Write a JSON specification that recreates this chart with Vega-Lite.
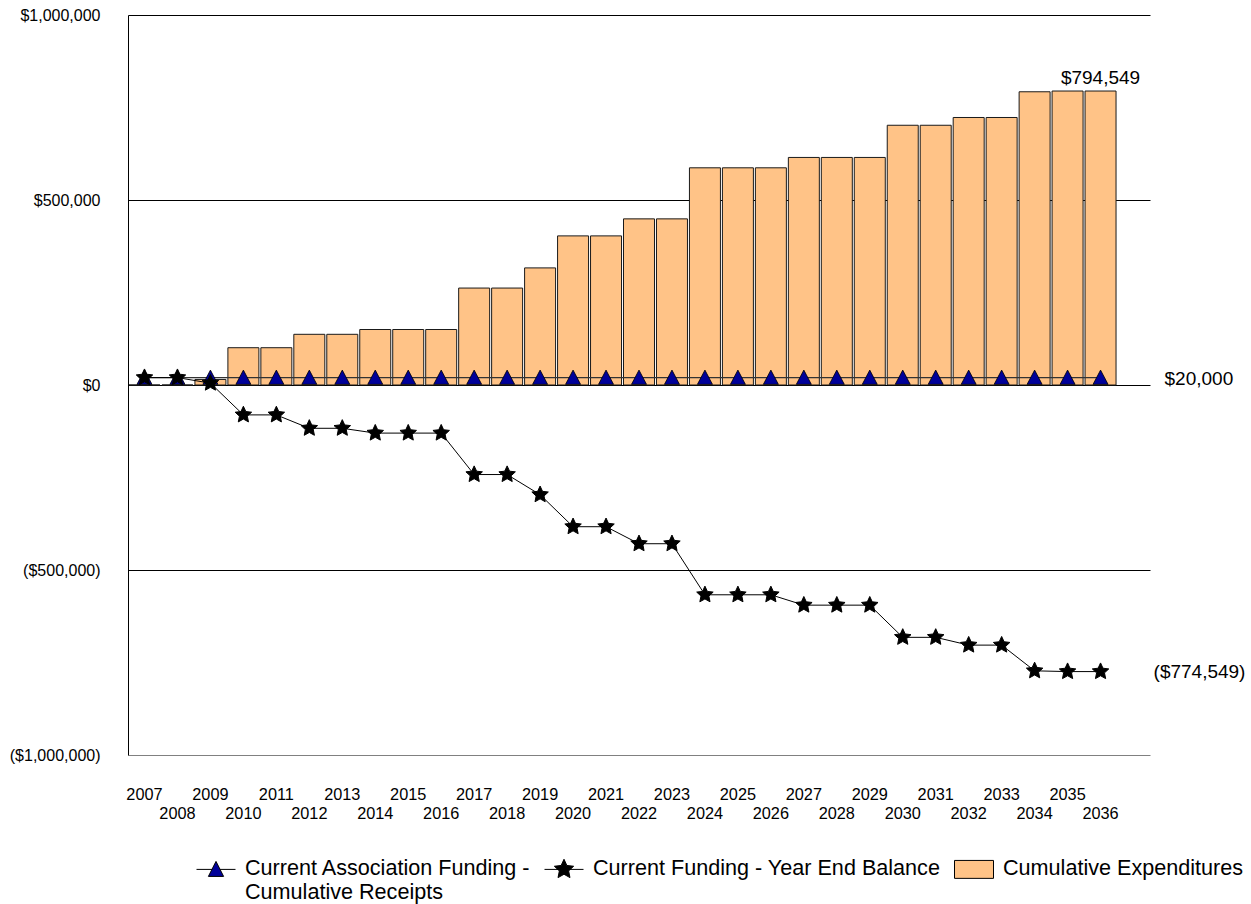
{
  "$schema": "https://vega.github.io/schema/vega-lite/v6.json",
  "width": 1022,
  "height": 740,
  "autosize": {"type": "none"},
  "padding": {"left": 128, "top": 15, "right": 101, "bottom": 149},
  "config": {
    "font": "Liberation Sans",
    "view": {"stroke": null},
    "axis": {"labelColor": "black", "labelFont": "Liberation Sans"}
  },
  "data": {
    "values": [
      {"year": 2007, "receipts": 20000, "balance": 20000, "expenditures": 0},
      {"year": 2008, "receipts": 20000, "balance": 20000, "expenditures": 0},
      {"year": 2009, "receipts": 20000, "balance": 5000, "expenditures": 15000},
      {"year": 2010, "receipts": 20000, "balance": -80800, "expenditures": 100800},
      {"year": 2011, "receipts": 20000, "balance": -80800, "expenditures": 100800},
      {"year": 2012, "receipts": 20000, "balance": -117000, "expenditures": 137000},
      {"year": 2013, "receipts": 20000, "balance": -117000, "expenditures": 137000},
      {"year": 2014, "receipts": 20000, "balance": -130000, "expenditures": 150000},
      {"year": 2015, "receipts": 20000, "balance": -130000, "expenditures": 150000},
      {"year": 2016, "receipts": 20000, "balance": -130000, "expenditures": 150000},
      {"year": 2017, "receipts": 20000, "balance": -242000, "expenditures": 262000},
      {"year": 2018, "receipts": 20000, "balance": -242000, "expenditures": 262000},
      {"year": 2019, "receipts": 20000, "balance": -296500, "expenditures": 316500},
      {"year": 2020, "receipts": 20000, "balance": -383000, "expenditures": 403000},
      {"year": 2021, "receipts": 20000, "balance": -383000, "expenditures": 403000},
      {"year": 2022, "receipts": 20000, "balance": -429000, "expenditures": 449000},
      {"year": 2023, "receipts": 20000, "balance": -429000, "expenditures": 449000},
      {"year": 2024, "receipts": 20000, "balance": -567000, "expenditures": 587000},
      {"year": 2025, "receipts": 20000, "balance": -567000, "expenditures": 587000},
      {"year": 2026, "receipts": 20000, "balance": -567000, "expenditures": 587000},
      {"year": 2027, "receipts": 20000, "balance": -595000, "expenditures": 615000},
      {"year": 2028, "receipts": 20000, "balance": -595000, "expenditures": 615000},
      {"year": 2029, "receipts": 20000, "balance": -595000, "expenditures": 615000},
      {"year": 2030, "receipts": 20000, "balance": -682000, "expenditures": 702000},
      {"year": 2031, "receipts": 20000, "balance": -682000, "expenditures": 702000},
      {"year": 2032, "receipts": 20000, "balance": -703000, "expenditures": 723000},
      {"year": 2033, "receipts": 20000, "balance": -703000, "expenditures": 723000},
      {"year": 2034, "receipts": 20000, "balance": -772500, "expenditures": 792500},
      {"year": 2035, "receipts": 20000, "balance": -774549, "expenditures": 794549},
      {"year": 2036, "receipts": 20000, "balance": -774549, "expenditures": 794549}
    ]
  },
  "layer": [
    {
      "mark": {"type": "bar", "fill": "#FFC387", "stroke": "#1a1a1a", "strokeWidth": 1},
      "encoding": {
        "x": {
          "field": "year", "type": "ordinal", "title": null,
          "scale": {"domain": [2007,2008,2009,2010,2011,2012,2013,2014,2015,2016,2017,2018,2019,2020,2021,2022,2023,2024,2025,2026,2027,2028,2029,2030,2031,2032,2033,2034,2035,2036,2037], "paddingInner": 0.06, "paddingOuter": 0.03},
          "axis": {
            "title": null, "orient": "bottom", "domain": false, "ticks": false, "grid": false,
            "labelAngle": 0, "labelFontSize": 16.3, "labelBaseline": "top", "labelAlign": "center",
            "labelPadding": {"condition": {"test": "datum.value % 2 == 0", "value": 50}, "value": 31},
            "labelExpr": "datum.value == 2037 ? '' : datum.label"
          }
        },
        "y": {
          "field": "expenditures", "type": "quantitative", "title": null,
          "scale": {"domain": [-1000000, 1000000], "nice": false, "zero": false},
          "axis": {
            "title": null, "values": [-1000000, -500000, 0, 500000, 1000000],
            "domain": true, "domainColor": "black", "domainWidth": 1,
            "ticks": false, "grid": true,
            "gridColor": {"condition": {"test": "datum.value == -1000000", "value": "#808080"}, "value": "black"},
            "gridWidth": 1, "gridOpacity": 1,
            "labelFontSize": 16, "labelPadding": 28,
            "labelExpr": "datum.value < 0 ? '($' + format(-datum.value, ',') + ')' : '$' + format(datum.value, ',')"
          }
        }
      }
    },
    {
      "mark": {"type": "line", "color": "#333333", "strokeWidth": 1.2},
      "encoding": {
        "x": {"field": "year", "type": "ordinal", "title": null},
        "y": {"field": "receipts", "type": "quantitative", "title": null}
      }
    },
    {
      "mark": {"type": "point", "shape": "M0,-0.5L0.5,0.45L-0.5,0.45Z", "size": 900, "filled": true, "fill": "#000099", "stroke": "black", "strokeWidth": 0.8, "opacity": 1},
      "encoding": {
        "x": {"field": "year", "type": "ordinal", "title": null},
        "y": {"field": "receipts", "type": "quantitative", "title": null}
      }
    },
    {
      "mark": {"type": "line", "color": "black", "strokeWidth": 1},
      "encoding": {
        "x": {"field": "year", "type": "ordinal", "title": null},
        "y": {"field": "balance", "type": "quantitative", "title": null}
      }
    },
    {
      "mark": {"type": "point", "shape": "M0,-0.5L0.141,-0.194L0.476,-0.155L0.228,0.074L0.294,0.405L0,0.24L-0.294,0.405L-0.228,0.074L-0.476,-0.155L-0.141,-0.194Z", "size": 1200, "filled": true, "fill": "black", "stroke": "black", "strokeWidth": 1, "opacity": 1},
      "encoding": {
        "x": {"field": "year", "type": "ordinal", "title": null},
        "y": {"field": "balance", "type": "quantitative", "title": null}
      }
    },
    {
      "data": {"values": [{"year": 2036, "amount": 794549, "label": "$794,549"}]},
      "mark": {"type": "text", "fontSize": 19, "align": "center", "baseline": "alphabetic", "dy": -7, "color": "black"},
      "encoding": {
        "x": {"field": "year", "type": "ordinal", "title": null},
        "y": {"field": "amount", "type": "quantitative", "title": null},
        "text": {"field": "label"}
      }
    },
    {
      "data": {"values": [{"year": 2036, "amount": 20000, "label": "$20,000"}]},
      "mark": {"type": "text", "fontSize": 19, "align": "left", "baseline": "alphabetic", "dx": 64, "dy": 7, "color": "black"},
      "encoding": {
        "x": {"field": "year", "type": "ordinal", "title": null},
        "y": {"field": "amount", "type": "quantitative", "title": null},
        "text": {"field": "label"}
      }
    },
    {
      "data": {"values": [{"year": 2036, "amount": -774549, "label": "($774,549)"}]},
      "mark": {"type": "text", "fontSize": 19, "align": "left", "baseline": "middle", "dx": 53, "color": "black"},
      "encoding": {
        "x": {"field": "year", "type": "ordinal", "title": null},
        "y": {"field": "amount", "type": "quantitative", "title": null},
        "text": {"field": "label"}
      }
    },
    {
      "transform": [{"filter": "false"}],
      "mark": {"type": "point", "filled": true, "strokeWidth": 1, "opacity": 1},
      "encoding": {
        "fill": {
          "field": "series", "type": "nominal",
          "scale": {"domain": ["Current Association Funding - Cumulative Receipts", "Current Funding - Year End Balance", "Cumulative Expenditures"], "range": ["#000099", "black", "#FFC387"]},
          "legend": {
            "title": null, "orient": "none", "legendX": 68, "legendY": 834, "direction": "horizontal", "columns": 3,
            "symbolSize": 1521, "symbolStrokeWidth": 1, "symbolOpacity": 1,
            "labelFontSize": 21.6, "labelOffset": 9, "columnPadding": 11, "labelLimit": 800, "labelColor": "black", "labelBaseline": "middle",
            "labelExpr": "datum.label == 'Current Association Funding - Cumulative Receipts' ? ['Current Association Funding -', 'Cumulative Receipts'] : [datum.label, '']"
          }
        },
        "stroke": {
          "field": "series", "type": "nominal",
          "scale": {"domain": ["Current Association Funding - Cumulative Receipts", "Current Funding - Year End Balance", "Cumulative Expenditures"], "range": ["black", "black", "black"]},
          "legend": {
            "title": null, "orient": "none", "legendX": 68, "legendY": 834, "direction": "horizontal", "columns": 3,
            "symbolSize": 1521, "symbolStrokeWidth": 1, "symbolOpacity": 1,
            "labelFontSize": 21.6, "labelOffset": 9, "columnPadding": 11, "labelLimit": 800, "labelColor": "black", "labelBaseline": "middle",
            "labelExpr": "datum.label == 'Current Association Funding - Cumulative Receipts' ? ['Current Association Funding -', 'Cumulative Receipts'] : [datum.label, '']"
          }
        },
        "shape": {
          "field": "series", "type": "nominal",
          "scale": {"domain": ["Current Association Funding - Cumulative Receipts", "Current Funding - Year End Balance", "Cumulative Expenditures"], "range": ["M-1,0H-0.2M0.2,0H1M0,-0.41L0.39,0.36L-0.39,0.36Z", "M-1,0H1M0,-0.52L0.147,-0.202L0.495,-0.161L0.238,0.077L0.306,0.421L0,0.25L-0.306,0.421L-0.238,0.077L-0.495,-0.161L-0.147,-0.202Z", "M-1,-0.46H1V0.46H-1Z"]},
          "legend": {
            "title": null, "orient": "none", "legendX": 68, "legendY": 834, "direction": "horizontal", "columns": 3,
            "symbolSize": 1521, "symbolStrokeWidth": 1, "symbolOpacity": 1,
            "labelFontSize": 21.6, "labelOffset": 9, "columnPadding": 11, "labelLimit": 800, "labelColor": "black", "labelBaseline": "middle",
            "labelExpr": "datum.label == 'Current Association Funding - Cumulative Receipts' ? ['Current Association Funding -', 'Cumulative Receipts'] : [datum.label, '']"
          }
        }
      }
    }
  ]
}
